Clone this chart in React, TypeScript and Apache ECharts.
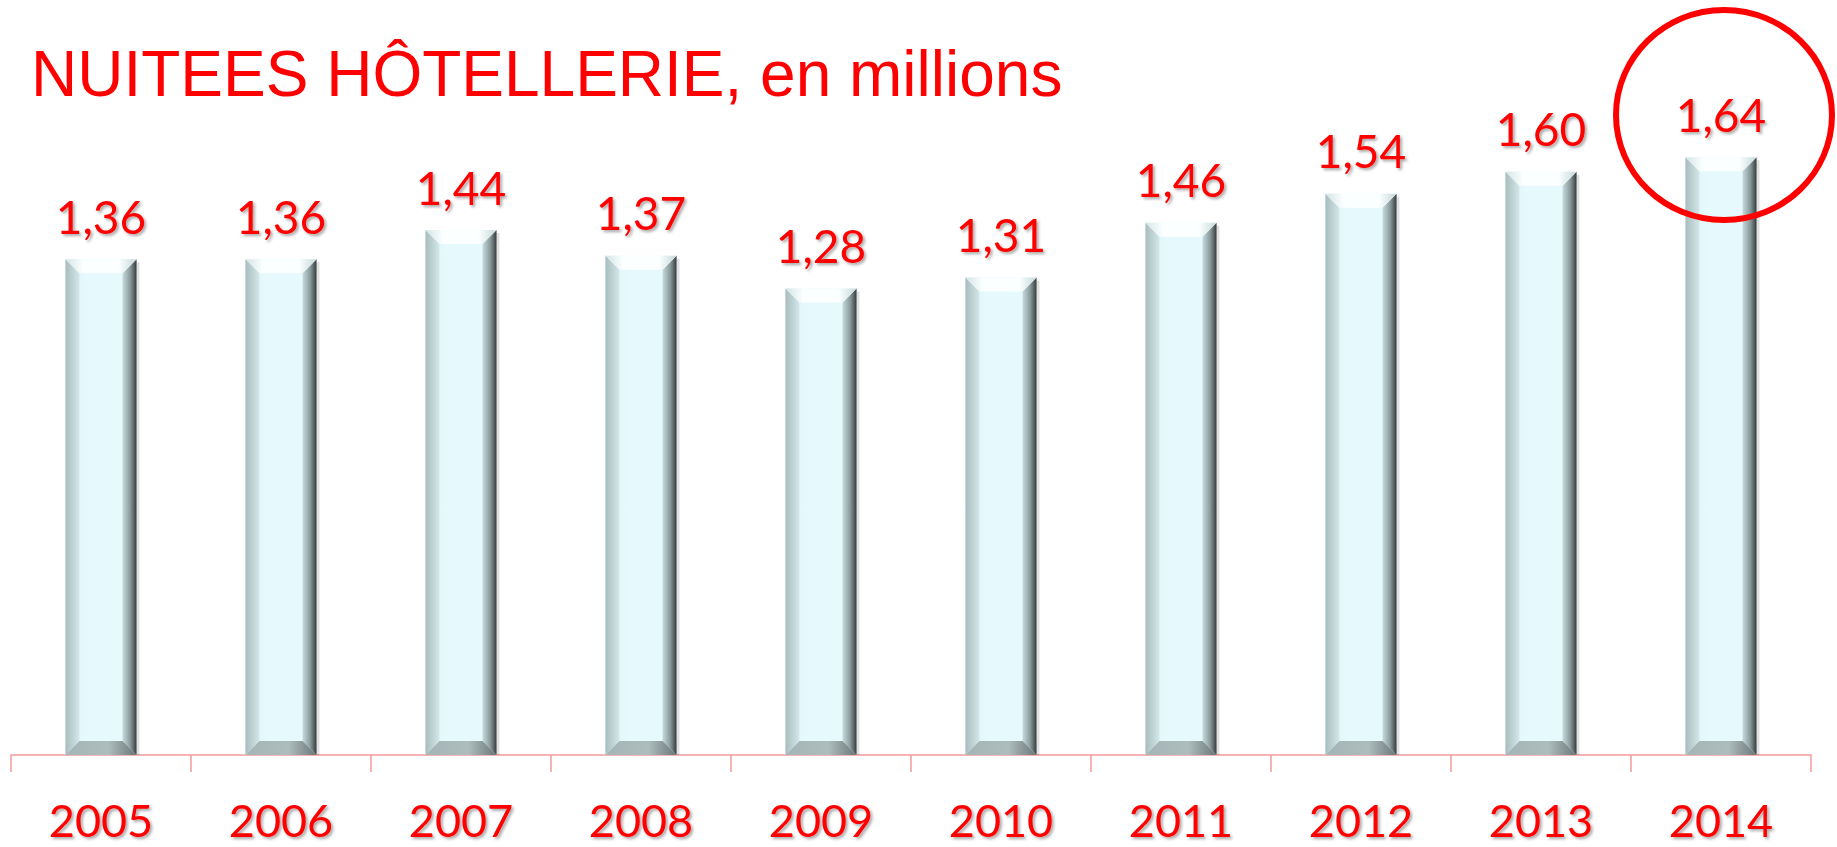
import React, { useEffect, useRef } from "react";
import * as echarts from "echarts";

const categories = ["2005", "2006", "2007", "2008", "2009", "2010", "2011", "2012", "2013", "2014"];
const values = [1.36, 1.36, 1.44, 1.37, 1.28, 1.31, 1.46, 1.54, 1.6, 1.64];
const titleText = "NUITEES HÔTELLERIE, en millions";

const fmt = (v: number) => v.toFixed(2).replace(".", ",");

export default function App() {
  const ref = useRef<HTMLDivElement>(null);
  useEffect(() => {
    if (!ref.current) return;
    const chart = echarts.init(ref.current, null, { renderer: "svg" });
    const lg = (stops: [number, string][], vertical = false) =>
      new echarts.graphic.LinearGradient(0, 0, vertical ? 0 : 1, vertical ? 1 : 0,
        stops.map(([offset, color]) => ({ offset, color })));
    const option: any = {
      animation: false,
      backgroundColor: "#ffffff",
      title: {
        text: titleText,
        left: 31,
        top: 42,
        padding: 0,
        textStyle: {
          color: "#ff0000",
          fontFamily: "Liberation Sans, Arial, sans-serif",
          fontWeight: "normal",
          fontSize: 64,
          lineHeight: 64,
        },
      },
      grid: { left: 11, right: 26, top: 26, bottom: 92 },
      xAxis: {
        type: "category",
        data: categories,
        axisLine: { lineStyle: { color: "#f49a9a", width: 1.5 } },
        axisTick: { show: true, length: 17, lineStyle: { color: "#f49a9a", width: 1.5 } },
        axisLabel: {
          color: "#ff0000",
          fontFamily: "Lato, sans-serif",
          fontSize: 45,
          lineHeight: 36,
          margin: 47,
          textShadowColor: "rgba(0,0,0,0.35)",
          textShadowBlur: 3,
          textShadowOffsetX: 2,
          textShadowOffsetY: 2,
        },
      },
      yAxis: {
        type: "value",
        min: 0,
        max: 2,
        show: false,
        splitLine: { show: false },
      },
      series: [
        {
          type: "custom",
          data: categories.map((c, i) => [i, values[i]]),
          renderItem: (params: any, api: any) => {
            const i = api.value(0);
            const v = api.value(1);
            const top = api.coord([i, v]);
            const base = api.coord([i, 0]);
            const w = api.size([1, 0])[0] * 0.395;
            const x0 = top[0] - w / 2;
            const x1 = top[0] + w / 2;
            const y0 = top[1];
            const y1 = base[1];
            const b = 14;
            return {
              type: "group",
              children: [
                {
                  type: "rect",
                  shape: { x: x0 + 3, y: y0 + 3, width: w, height: y1 - y0 - 3 },
                  style: { fill: "rgba(0,0,0,0.12)" },
                },
                {
                  type: "rect",
                  shape: { x: x0, y: y0, width: w, height: y1 - y0 },
                  style: { fill: lg([[0, "#dff2f4"], [0.3, "#e6fafd"], [1, "#e6fafd"]]) },
                },
                {
                  type: "polygon",
                  shape: { points: [[x0, y0], [x0 + b, y0 + b], [x0 + b, y1 - b], [x0, y1]] },
                  style: { fill: lg([[0, "#a9bcbe"], [1, "#d3e8ea"]]) },
                },
                {
                  type: "polygon",
                  shape: { points: [[x1, y0], [x1 - b, y0 + b], [x1 - b, y1 - b], [x1, y1]] },
                  style: { fill: lg([[0, "#c6dadc"], [0.55, "#8a9a9c"], [1, "#363b3c"]]) },
                },
                {
                  type: "polygon",
                  shape: { points: [[x0, y0], [x1, y0], [x1 - b, y0 + b], [x0 + b, y0 + b]] },
                  style: { fill: lg([[0, "#d5e4e5"], [0.25, "#fbffff"], [0.75, "#fbffff"], [1, "#c9d8d9"]]) },
                },
                {
                  type: "polygon",
                  shape: { points: [[x0, y1], [x1, y1], [x1 - b, y1 - b], [x0 + b, y1 - b]] },
                  style: { fill: lg([[0, "#a5b5b6"], [0.6, "#adbdbe"], [1, "#6c7677"]]) },
                },
                {
                  type: "text",
                  style: {
                    text: fmt(v),
                    x: top[0],
                    y: y0 - 20,
                    align: "center",
                    verticalAlign: "bottom",
                    fill: "#ff0000",
                    fontFamily: "Lato, sans-serif",
                    fontSize: 46,
                    lineHeight: 46,
                    textShadowColor: "rgba(0,0,0,0.35)",
                    textShadowBlur: 3,
                    textShadowOffsetX: 2,
                    textShadowOffsetY: 2,
                  },
                },
              ],
            };
          },
        },
      ],
      graphic: [
        {
          type: "ellipse",
          z: 100,
          shape: { cx: 1724, cy: 115, rx: 108, ry: 105 },
          style: { fill: "none", stroke: "#ff0000", lineWidth: 6 },
        },
      ],
    };
    chart.setOption(option);
    return () => chart.dispose();
  }, []);
  return (
    <div
      ref={ref}
      style={{ position: "fixed", left: 0, top: 0, width: 1837, height: 847 }}
    />
  );
}
